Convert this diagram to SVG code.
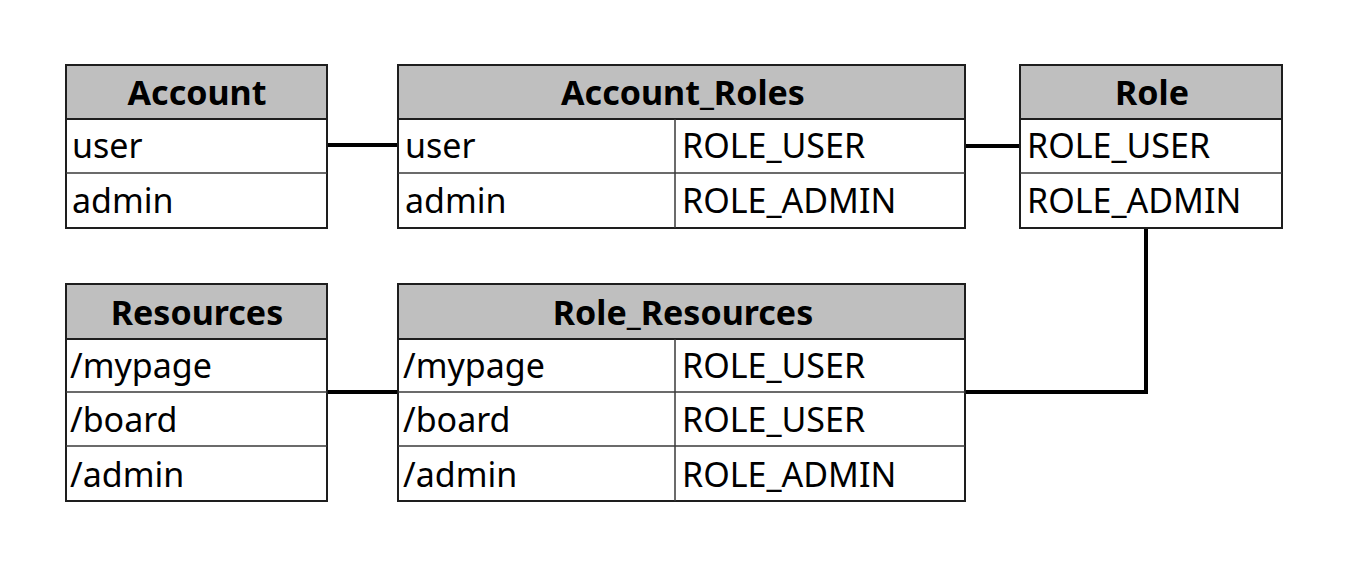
<svg xmlns="http://www.w3.org/2000/svg" width="1365" height="583" viewBox="0 0 1365 583">
<style>
.frame{fill:#ffffff;stroke:#1e1e1e;stroke-width:2}
.head{fill:#bfbfbf;stroke:#1e1e1e;stroke-width:2}
.sep{stroke:#3a3a3a;stroke-width:1.5;fill:none}
.h{font-family:"Noto Sans","Open Sans","DejaVu Sans",sans-serif;font-weight:bold;font-size:34px;fill:#000;text-anchor:middle}
.t{font-family:"Noto Sans","Open Sans","DejaVu Sans",sans-serif;font-size:34px;fill:#000}
.conn{stroke:#000;stroke-width:4;fill:none}
</style>
<rect width="1365" height="583" fill="#ffffff"/>
<g id="connectors">
<path class="conn" d="M327 145 H398"/>
<path class="conn" d="M965 146 H1020"/>
<path class="conn" d="M327 392 H398"/>
<path class="conn" d="M1146 229 V392 H965"/>
</g>
<g id="account">
<rect class="frame" x="66" y="65" width="261" height="163"/>
<rect class="head" x="66" y="65" width="261" height="54"/>
<line class="sep" x1="66" y1="173" x2="327" y2="173"/>
<text class="h" x="197" y="105">Account</text>
<text class="t" x="72" y="158">user</text>
<text class="t" x="72" y="213">admin</text>
</g>
<g id="account_roles">
<rect class="frame" x="398" y="65" width="567" height="163"/>
<rect class="head" x="398" y="65" width="567" height="54"/>
<line class="sep" x1="398" y1="173" x2="965" y2="173"/>
<line class="sep" x1="675" y1="119" x2="675" y2="228"/>
<text class="h" x="683" y="105">Account_Roles</text>
<text class="t" x="405" y="158">user</text>
<text class="t" x="405" y="213">admin</text>
<text class="t" x="682" y="158">ROLE_USER</text>
<text class="t" x="682" y="213">ROLE_ADMIN</text>
</g>
<g id="role">
<rect class="frame" x="1020" y="65" width="262" height="163"/>
<rect class="head" x="1020" y="65" width="262" height="54"/>
<line class="sep" x1="1020" y1="173" x2="1282" y2="173"/>
<text class="h" x="1152" y="105">Role</text>
<text class="t" x="1027" y="158">ROLE_USER</text>
<text class="t" x="1027" y="213">ROLE_ADMIN</text>
</g>
<g id="resources">
<rect class="frame" x="66" y="284" width="261" height="217"/>
<rect class="head" x="66" y="284" width="261" height="55"/>
<line class="sep" x1="66" y1="392" x2="327" y2="392"/>
<line class="sep" x1="66" y1="446" x2="327" y2="446"/>
<text class="h" x="197" y="325">Resources</text>
<text class="t" x="70" y="378">/mypage</text>
<text class="t" x="70" y="432">/board</text>
<text class="t" x="70" y="487">/admin</text>
</g>
<g id="role_resources">
<rect class="frame" x="398" y="284" width="567" height="217"/>
<rect class="head" x="398" y="284" width="567" height="55"/>
<line class="sep" x1="398" y1="392" x2="965" y2="392"/>
<line class="sep" x1="398" y1="446" x2="965" y2="446"/>
<line class="sep" x1="675" y1="339" x2="675" y2="501"/>
<text class="h" x="683" y="325">Role_Resources</text>
<text class="t" x="403" y="378">/mypage</text>
<text class="t" x="403" y="432">/board</text>
<text class="t" x="403" y="487">/admin</text>
<text class="t" x="682" y="378">ROLE_USER</text>
<text class="t" x="682" y="432">ROLE_USER</text>
<text class="t" x="682" y="487">ROLE_ADMIN</text>
</g>
</svg>
